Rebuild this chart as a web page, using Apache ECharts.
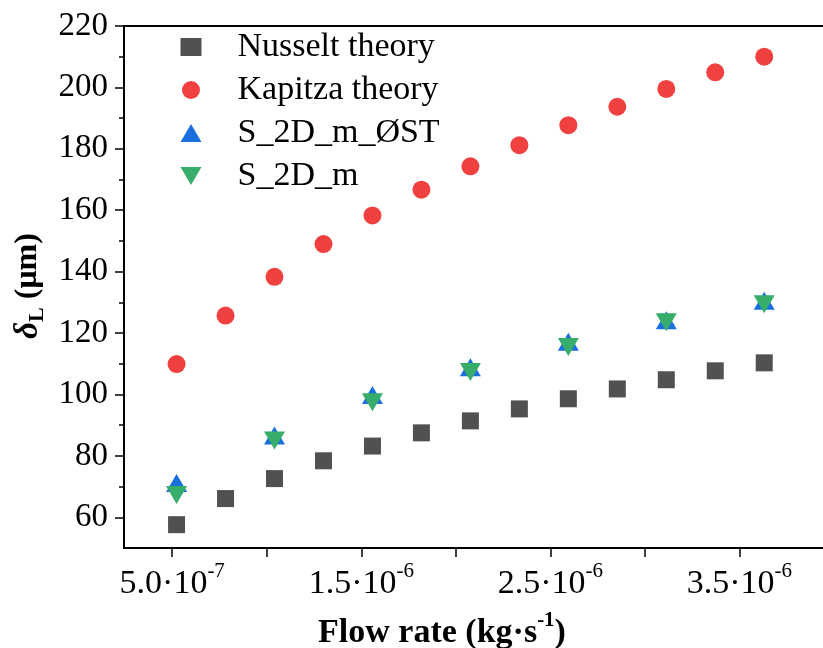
<!DOCTYPE html>
<html>
<head>
<meta charset="utf-8">
<script src="https://cdn.jsdelivr.net/npm/echarts@6/dist/echarts.min.js"></script>
<style>
  html, body { margin: 0; padding: 0; background: #fff; overflow: hidden; width: 823px; height: 648px; }
  #chart { width: 860px; height: 648px; }
</style>
</head>
<body>
<div id="chart"></div>
<script>
// Liquid film thickness versus mass flow rate
const flowRate = [5.23e-7, 7.82e-7, 1.041e-6, 1.300e-6, 1.559e-6, 1.818e-6, 2.077e-6,
                  2.336e-6, 2.595e-6, 2.854e-6, 3.113e-6, 3.372e-6, 3.631e-6];
const nusselt = [57.6, 66.1, 72.6, 78.4, 83.2, 87.5, 91.4, 95.3, 98.6, 101.8, 104.8, 107.7, 110.3];
const kapitza = [109.9, 125.7, 138.3, 149.0, 158.3, 166.7, 174.3, 181.2, 187.7, 193.7, 199.5, 204.9, 210.0];

const flowRateSim = [5.23e-7, 1.041e-6, 1.559e-6, 2.077e-6, 2.595e-6, 3.113e-6, 3.631e-6];
const simNoST = [71.2, 86.6, 99.8, 108.9, 117.2, 124.2, 130.5];
const sim = [67.3, 85.0, 97.5, 107.3, 115.5, 123.5, 129.4];

const seriesNames = ['Nusselt theory', 'Kapitza theory', 'S_2D_m_ØST', 'S_2D_m'];

const xTicks = [5e-7, 1e-6, 1.5e-6, 2e-6, 2.5e-6, 3e-6, 3.5e-6, 4e-6];
const xLabels = [5e-7, 1.5e-6, 2.5e-6, 3.5e-6];
const yMajor = [60, 80, 100, 120, 140, 160, 180, 200, 220];
const yMinor = [70, 90, 110, 130, 150, 170, 190, 210];

const FONT = 'Liberation Serif';

function pairs(xs, ys) { return xs.map((x, i) => [x, ys[i]]); }

function sciLabel(v) {
  const e = Math.floor(Math.log10(v) + 1e-9);
  const m = (v / Math.pow(10, e)).toFixed(1);
  return '{m|' + m + '·10}{e|' + e + '}';
}

const chart = echarts.init(document.getElementById('chart'), null, { renderer: 'canvas' });

chart.setOption({
  animation: false,
  backgroundColor: '#fff',
  grid: {
    left: 124, top: 26, width: 710, height: 522,
    show: true, borderColor: '#000', borderWidth: 2, backgroundColor: 'transparent'
  },
  legend: {
    orient: 'vertical',
    left: 180.5, top: 30,
    padding: 0,
    itemWidth: 21, itemHeight: 18, itemGap: 9,
    data: [
      { name: seriesNames[0] },
      { name: seriesNames[1] },
      { name: seriesNames[2] },
      { name: seriesNames[3], icon: 'path://M0,0 L21,0 L10.5,18 Z' }
    ],
    textStyle: { fontFamily: FONT, fontSize: 34, color: '#000', lineHeight: 34, padding: [0, 0, 0, 31] }
  },
  xAxis: {
    type: 'value', min: 2.45e-7, max: 4.0e-6,
    axisLine: { lineStyle: { color: '#000', width: 2 } },
    axisTick: { customValues: xTicks, length: 9, lineStyle: { color: '#000', width: 1.5 } },
    axisLabel: {
      customValues: xLabels, margin: 13,
      formatter: sciLabel,
      rich: {
        m: { fontFamily: FONT, fontSize: 34, color: '#000', lineHeight: 40, verticalAlign: 'bottom' },
        e: { fontFamily: FONT, fontSize: 21, color: '#000', lineHeight: 40, verticalAlign: 'top' }
      }
    },
    splitLine: { show: false }
  },
  yAxis: [{
    type: 'value', min: 50, max: 220,
    axisLine: { show: true, lineStyle: { color: '#000', width: 2 } },
    axisTick: { show: true, customValues: yMajor, length: 9, lineStyle: { color: '#000', width: 1.5 } },
    axisLabel: { customValues: yMajor, margin: 16, fontFamily: FONT, fontSize: 33, color: '#000' },
    splitLine: { show: false }
  }, {
    type: 'value', min: 50, max: 220, position: 'left',
    axisLine: { show: false },
    axisTick: { show: true, customValues: yMinor, length: 5, lineStyle: { color: '#000', width: 1.5 } },
    axisLabel: { show: false },
    splitLine: { show: false }
  }],
  graphic: [{
    type: 'text', x: 442, y: 630,
    style: {
      text: '{t|Flow rate (kg·s}{s|-1}{t|)}',
      align: 'center', verticalAlign: 'middle',
      rich: {
        t: { fontFamily: FONT, fontSize: 34, fontWeight: 'bold', fill: '#000', lineHeight: 40, verticalAlign: 'bottom' },
        s: { fontFamily: FONT, fontSize: 21, fontWeight: 'bold', fill: '#000', lineHeight: 40, verticalAlign: 'top' }
      }
    }
  }, {
    type: 'text', x: 28, y: 286, rotation: Math.PI / 2,
    style: {
      text: '{d|δ}{l|L}{t| (μm)}',
      align: 'center', verticalAlign: 'middle',
      rich: {
        d: { fontFamily: FONT, fontSize: 33, fontWeight: 'bold', fontStyle: 'italic', fill: '#000', lineHeight: 40, verticalAlign: 'middle' },
        l: { fontFamily: FONT, fontSize: 22, fontWeight: 'bold', fill: '#000', lineHeight: 40, verticalAlign: 'bottom' },
        t: { fontFamily: FONT, fontSize: 32, fontWeight: 'bold', fill: '#000', lineHeight: 40, verticalAlign: 'middle' }
      }
    }
  }],
  series: [{
    name: seriesNames[0], type: 'scatter', symbol: 'rect', symbolSize: 17,
    itemStyle: { color: '#515151', opacity: 1 },
    data: pairs(flowRate, nusselt)
  }, {
    name: seriesNames[1], type: 'scatter', symbol: 'circle', symbolSize: 18,
    itemStyle: { color: '#F14040', opacity: 1 },
    data: pairs(flowRate, kapitza)
  }, {
    name: seriesNames[2], type: 'scatter', symbol: 'triangle', symbolSize: [21, 18],
    itemStyle: { color: '#1A6FDF', opacity: 1 },
    data: pairs(flowRateSim, simNoST)
  }, {
    name: seriesNames[3], type: 'scatter', symbol: 'triangle', symbolSize: [21, 18], symbolRotate: 180,
    itemStyle: { color: '#37AD6B', opacity: 1 },
    data: pairs(flowRateSim, sim)
  }]
});
</script>
</body>
</html>
